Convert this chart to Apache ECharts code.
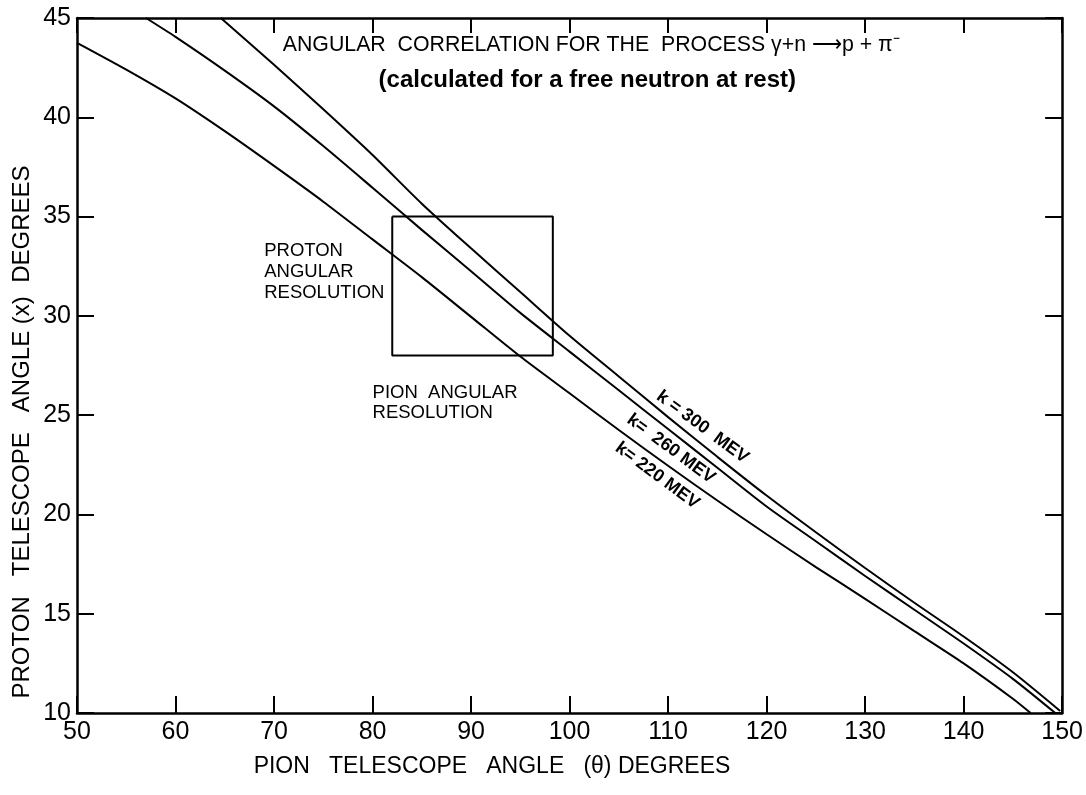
<!DOCTYPE html>
<html>
<head>
<meta charset="utf-8">
<script src="https://cdn.jsdelivr.net/npm/echarts@6/dist/echarts.min.js"></script>
<style>
html,body{margin:0;padding:0;background:#fff;}
#c{width:1086px;height:795px;}
</style>
</head>
<body>
<div id="c"></div>
<script>
// ---- data ----
var xTicks = [50, 60, 70, 80, 90, 100, 110, 120, 130, 140, 150];
var yTicks = [10, 15, 20, 25, 30, 35, 40, 45];

var k220_x = [50, 55, 60, 65, 70, 75, 80, 85, 90, 95, 100, 105, 110, 115, 120, 125, 130, 135, 140, 145, 146.8];
var k220_y = [43.75, 42.4, 40.95, 39.3, 37.55, 35.75, 33.85, 31.95, 29.95, 27.95, 26.1, 24.25, 22.45, 20.7, 19.0, 17.35, 15.75, 14.12, 12.5, 10.72, 10.0];

var k260_x = [57, 60, 65, 70, 75, 80, 85, 90, 95, 100, 105, 110, 115, 120, 125, 130, 135, 140, 145, 149.3];
var k260_y = [45.0, 44.05, 42.35, 40.55, 38.55, 36.45, 34.33, 32.25, 30.15, 28.2, 26.25, 24.3, 22.35, 20.4, 18.65, 16.9, 15.2, 13.5, 11.72, 10.0];

var k300_x = [64.6, 70, 75, 80, 85, 90, 95, 100, 105, 110, 115, 120, 125, 130, 135, 140, 145, 149.8];
var k300_y = [45.0, 42.65, 40.4, 38.1, 35.65, 33.4, 31.2, 29.0, 26.95, 24.9, 22.9, 20.95, 19.1, 17.3, 15.55, 13.85, 12.05, 10.1];

// resolution box corners (pion angle, proton angle)
var box_x = [82, 98.3, 98.3, 82, 82];
var box_y = [35, 35, 28, 28, 35];

var seriesNames = ['k = 220 MEV', 'k = 260 MEV', 'k = 300 MEV'];

function pairs(xs, ys) { return xs.map(function (x, i) { return [x, ys[i]]; }); }

var FONT = '"Liberation Sans", Arial, sans-serif';
var chart = echarts.init(document.getElementById('c'), null, {renderer: 'canvas'});

var axisLine = {show: true, onZero: false, lineStyle: {color: '#000', width: 2.5}};
var tickIn = {show: true, inside: true, length: 17, lineStyle: {color: '#000', width: 2}};

var option = {
  backgroundColor: '#fff',
  animation: false,
  grid: {left: 77, right: 13, top: 18, bottom: 82, containLabel: false},
  xAxis: [
    {type: 'value', min: 50, max: 150, interval: 10, position: 'bottom',
     axisLine: axisLine, axisTick: tickIn, splitLine: {show: false},
     axisLabel: {color: '#000', fontSize: 25, fontFamily: FONT, margin: 7,
       formatter: function (v) { return xTicks.indexOf(v) >= 0 ? String(v) : ''; }}},
    {type: 'value', min: 50, max: 150, interval: 10, position: 'top',
     axisLine: axisLine, axisTick: {show: true, inside: true, length: 15, lineStyle: {color: '#000', width: 2}},
     splitLine: {show: false}, axisLabel: {show: false}}
  ],
  yAxis: [
    {type: 'value', min: 10, max: 45, interval: 5, position: 'left',
     axisLine: axisLine, axisTick: tickIn, splitLine: {show: false},
     axisLabel: {color: '#000', fontSize: 25, fontFamily: FONT, margin: 6,
       formatter: function (v) { return yTicks.indexOf(v) >= 0 ? String(v) : ''; }}},
    {type: 'value', min: 10, max: 45, interval: 5, position: 'right',
     axisLine: axisLine, axisTick: tickIn, splitLine: {show: false}, axisLabel: {show: false}}
  ],
  series: [
    {name: seriesNames[0], type: 'line', data: pairs(k220_x, k220_y), smooth: 0.25,
     showSymbol: false, clip: true, lineStyle: {color: '#000', width: 2}},
    {name: seriesNames[1], type: 'line', data: pairs(k260_x, k260_y), smooth: 0.25,
     showSymbol: false, clip: true, lineStyle: {color: '#000', width: 2}},
    {name: seriesNames[2], type: 'line', data: pairs(k300_x, k300_y), smooth: 0.25,
     showSymbol: false, clip: true, lineStyle: {color: '#000', width: 2}},
    {name: 'box', type: 'line', data: pairs(box_x, box_y), showSymbol: false,
     lineStyle: {color: '#000', width: 2}}
  ]
};
chart.setOption(option);

function px(x, y) { return chart.convertToPixel({gridIndex: 0}, [x, y]); }
function txt(text, pos, opts) {
  opts = opts || {};
  return {
    type: 'text', x: pos[0], y: pos[1], rotation: opts.rotation || 0, z: 100,
    style: {
      text: text, fill: '#000',
      font: (opts.weight || 'normal') + ' ' + (opts.size || 18) + 'px ' + (opts.family || FONT),
      align: opts.align || 'center', verticalAlign: opts.valign || 'middle',
      textAlign: opts.align || 'center', textVerticalAlign: opts.valign || 'middle',
      lineHeight: opts.lineHeight
    }
  };
}
var rot = -36.5 * Math.PI / 180;
chart.setOption({
  graphic: [
    txt('ANGULAR  CORRELATION FOR THE  PROCESS γ+n ⟶p + π⁻', px(102.2, 43.64), {size: 21.3}),
    txt('(calculated for a free neutron at rest)', px(101.8, 41.88), {size: 24, weight: 'bold'}),
    txt('PROTON\nANGULAR\nRESOLUTION', px(69.0, 33.8), {size: 18.5, align: 'left', valign: 'top', lineHeight: 21}),
    txt('PION  ANGULAR\nRESOLUTION', px(80.0, 26.6), {size: 18.5, align: 'left', valign: 'top', lineHeight: 20}),
    txt('k = 300  MEV', px(113.5, 24.4), {size: 18, weight: 'bold', rotation: rot}),
    txt('k=  260 MEV', px(110.3, 23.3), {size: 18, weight: 'bold', rotation: rot}),
    txt('k= 220 MEV', px(108.9, 21.95), {size: 18, weight: 'bold', rotation: rot}),
    txt('PION   TELESCOPE   ANGLE   (θ) DEGREES', [492, 767], {size: 23}),
    txt('PROTON   TELESCOPE   ANGLE (x)  DEGREES', [22, 432], {size: 24, rotation: Math.PI / 2})
  ]
});
</script>
</body>
</html>
